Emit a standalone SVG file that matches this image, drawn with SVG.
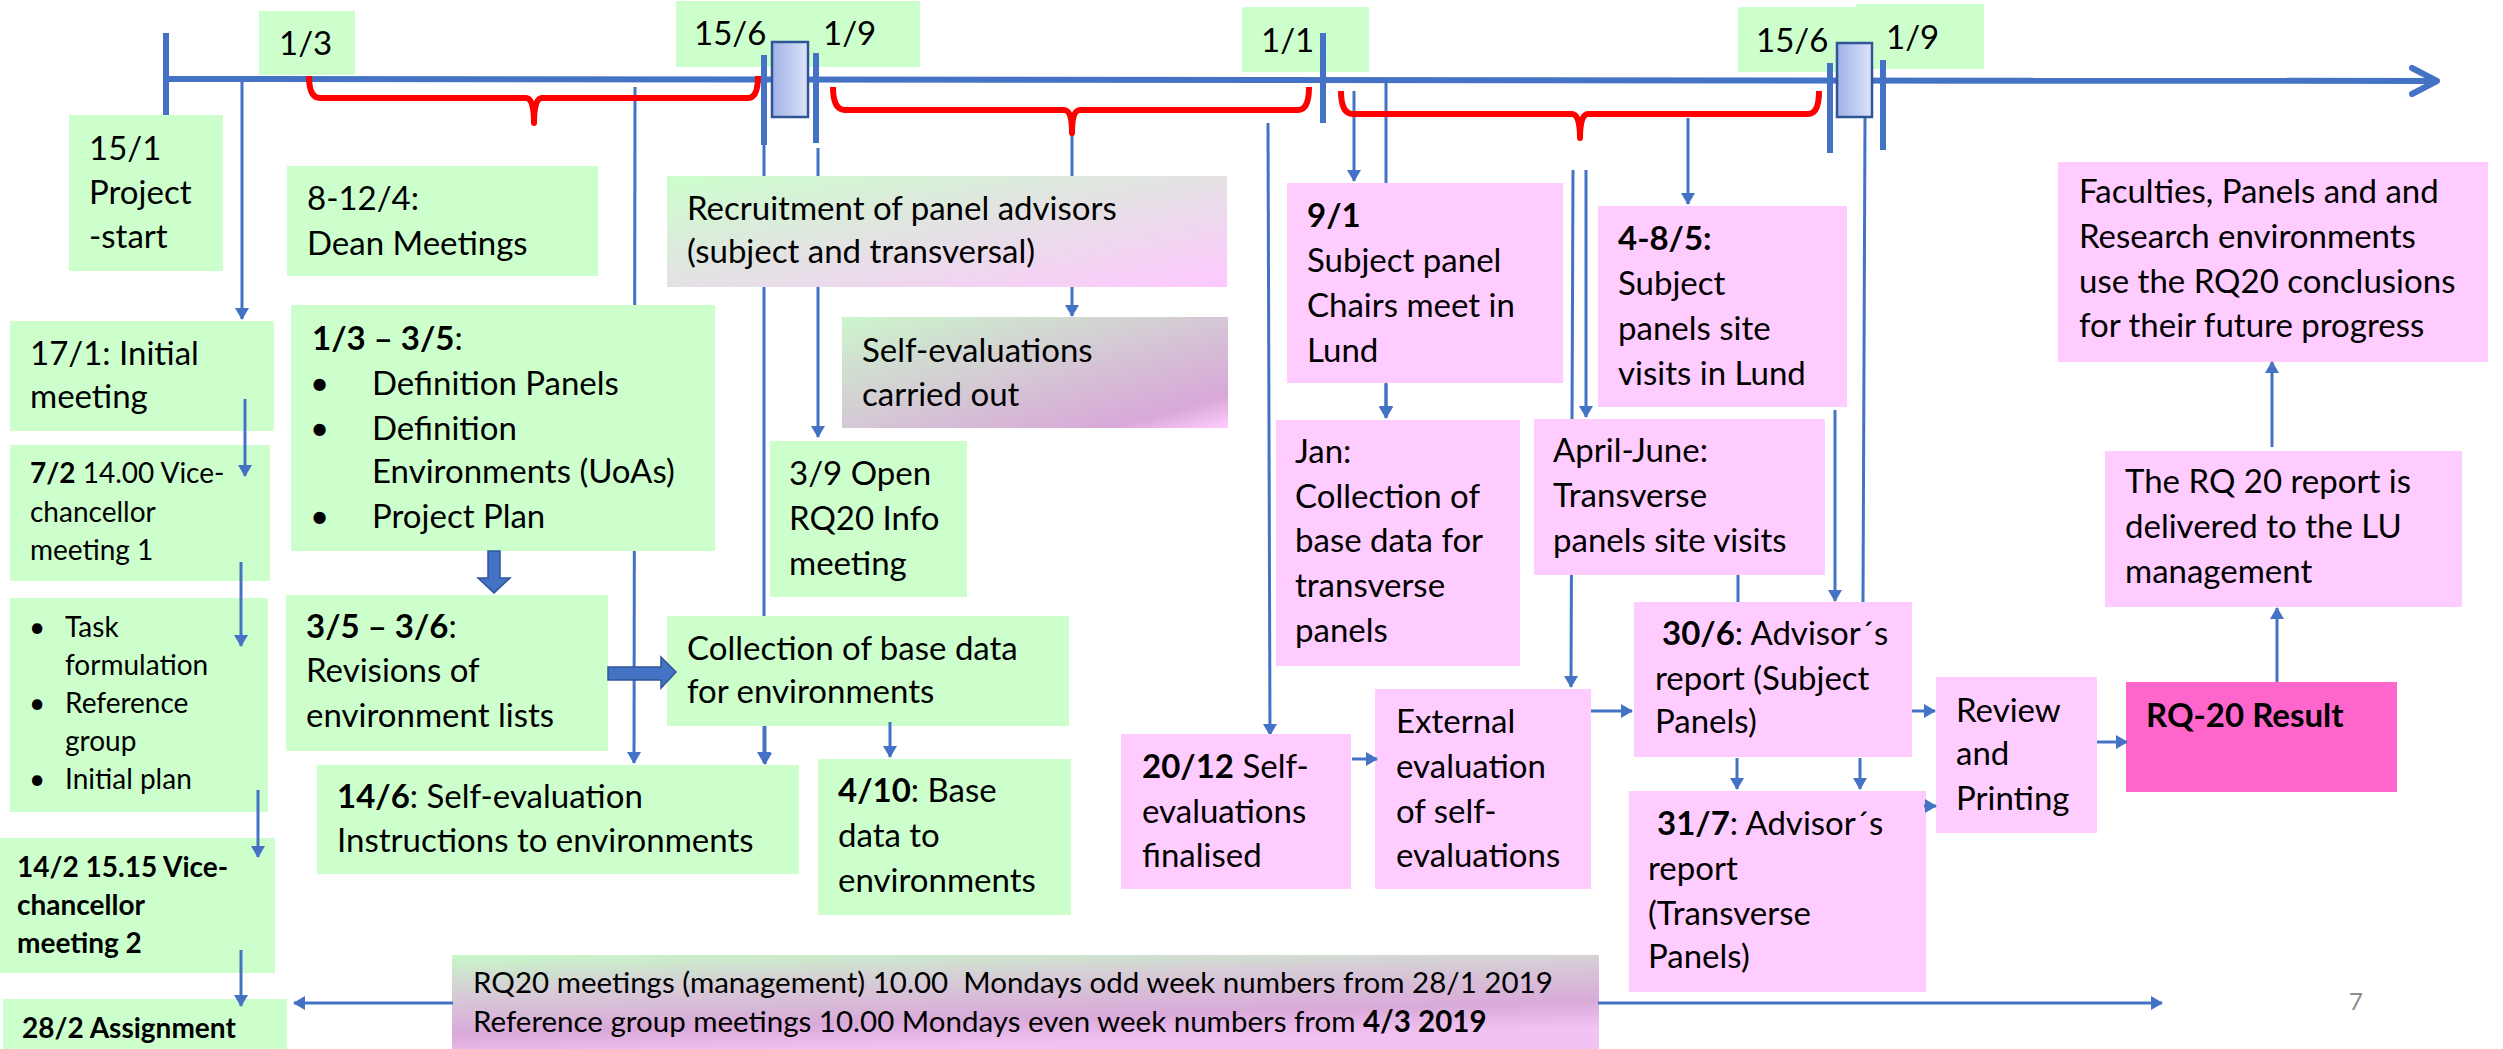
<svg xmlns="http://www.w3.org/2000/svg" width="2503" height="1049" viewBox="0 0 2503 1049">
<style>
text{font-family:Lato,"Liberation Sans",sans-serif;fill:#000;white-space:pre;}
.t{font-size:33px;}
.s{font-size:28px;}
.m{font-size:29.5px;}
.b{font-weight:bold;}
.g{fill:#CCFFCC;}
.p{fill:#FFCCFF;}
.ln{stroke:#4472C4;stroke-width:3;fill:none;}
.lna{stroke:#4472C4;stroke-width:3;fill:none;marker-end:url(#ah);}
.tick{stroke:#4472C4;stroke-width:6;fill:none;}
.brace{stroke:#FF0000;stroke-width:6;fill:none;stroke-linejoin:round;}
.thick{fill:#4472C4;stroke:#2F5597;stroke-width:1.5;}
.glyph{fill:url(#gg);stroke:#2F5597;stroke-width:2.5;}
</style>
<defs>
<marker id="ah" viewBox="0 0 12 14" refX="11" refY="7" markerWidth="12" markerHeight="14" orient="auto" markerUnits="userSpaceOnUse"><path d="M0,0 L12,7 L0,14 z" fill="#4472C4"/></marker>
<linearGradient id="gg" x1="0" y1="0" x2="1" y2="0"><stop offset="0" stop-color="#9FB1E6"/><stop offset="1" stop-color="#DDE4F8"/></linearGradient>
<linearGradient id="grec" x1="0" y1="0" x2="1" y2="1"><stop offset="0" stop-color="#CCFFCC"/><stop offset="0.5" stop-color="#E4E1E4"/><stop offset="1" stop-color="#FFC8FF"/></linearGradient>
<linearGradient id="gself" x1="0" y1="0" x2="1" y2="1"><stop offset="0" stop-color="#CCF5CC"/><stop offset="0.45" stop-color="#D4CCD4"/><stop offset="0.85" stop-color="#D8A8D8"/><stop offset="1" stop-color="#FFCCFF"/></linearGradient>
<linearGradient id="gmeet" x1="0" y1="0" x2="0.35" y2="1"><stop offset="0" stop-color="#C8F7C8"/><stop offset="0.35" stop-color="#D6CED6"/><stop offset="0.75" stop-color="#D9AAD9"/><stop offset="1" stop-color="#F2C2F2"/></linearGradient>
</defs>

<g id="connectors-back">
<line class="lna" x1="635" y1="87" x2="634" y2="763"/>
<line class="lna" x1="764" y1="145" x2="764" y2="763"/>
<line class="lna" x1="818" y1="148" x2="818" y2="437"/>
<line class="lna" x1="1072" y1="133" x2="1072" y2="316"/>
<line class="lna" x1="1268" y1="123" x2="1270" y2="735"/>
<line class="lna" x1="1354" y1="91" x2="1354" y2="181"/>
<line class="lna" x1="1386" y1="83" x2="1386" y2="417"/>
<line class="lna" x1="1688" y1="118" x2="1688" y2="204"/>
<line class="lna" x1="1573" y1="170" x2="1571" y2="687"/>
<line class="lna" x1="1586" y1="170" x2="1586" y2="417"/>
<line class="ln" x1="1738" y1="560" x2="1738" y2="602"/>
<line class="lna" x1="1835" y1="410" x2="1835" y2="601"/>
<line class="ln" x1="1865" y1="117" x2="1863" y2="602"/>
</g>

<g id="timeline">
<line x1="166" y1="79" x2="2434" y2="81" stroke="#4472C4" stroke-width="6"/>
<polyline points="2412,68 2437,81 2412,94" fill="none" stroke="#4472C4" stroke-width="6" stroke-linecap="round" stroke-linejoin="round"/>
<line class="tick" x1="166" y1="33" x2="166" y2="115"/>
<path class="brace" d="M309,76 Q309,98 320,98 L526,98 Q534,98 534,123 Q534,98 542,98 L748,98 Q758,98 758,76"/>
<path class="brace" d="M833,87 Q833,110 845,110 L1064,110 Q1072,110 1072,133 Q1072,110 1080,110 L1298,110 Q1309,110 1309,87"/>
<path class="brace" d="M1341,91 Q1341,114 1353,114 L1572,114 Q1580,114 1580,138 Q1580,114 1588,114 L1808,114 Q1819,114 1819,91"/>
</g>

<g id="label-1-3"><rect class="g" x="259" y="11" width="96" height="64"/><text class="t" x="279" y="55">1/3</text></g>
<g id="label-15-6-a"><rect class="g" x="676" y="1" width="244" height="66"/><text class="t" x="694" y="45">15/6</text><text class="t" x="823" y="45">1/9</text></g>
<g id="label-1-1"><rect class="g" x="1242" y="7" width="127" height="65"/><text class="t" x="1261" y="52">1/1</text></g>
<g id="label-15-6-b"><rect class="g" x="1738" y="7" width="118" height="65"/><rect class="g" x="1856" y="4" width="128" height="65"/><text class="t" x="1756" y="52">15/6</text><text class="t" x="1886" y="49">1/9</text></g>

<g id="timeline-over">
<line class="tick" x1="764" y1="55" x2="764" y2="145"/>
<line class="tick" x1="816" y1="53" x2="816" y2="143"/>
<line class="tick" x1="1323" y1="33" x2="1323" y2="123"/>
<line class="tick" x1="1830" y1="63" x2="1830" y2="153"/>
<line class="tick" x1="1883" y1="60" x2="1883" y2="150"/>
<rect class="glyph" x="772" y="42" width="36" height="75"/>
<rect class="glyph" x="1837" y="43" width="35" height="74"/>
</g>

<g id="n-projstart"><rect class="g" x="69" y="115" width="154" height="156"/><text class="t" x="89" y="160">15/1</text><text class="t" x="89" y="204">Project</text><text class="t" x="89" y="248">-start</text></g>
<g id="n-initial"><rect class="g" x="10" y="321" width="264" height="110"/><text class="t" x="30" y="365">17/1: Initial</text><text class="t" x="30" y="408">meeting</text></g>
<g id="n-vc1"><rect class="g" x="10" y="445" width="260" height="136"/><text class="s" x="30" y="483"><tspan class="b">7/2</tspan> 14.00 Vice-</text><text class="s" x="30" y="522">chancellor</text><text class="s" x="30" y="560">meeting 1</text></g>
<g id="n-task"><rect class="g" x="10" y="598" width="258" height="214"/><text class="s" x="29" y="637">•</text><text class="s" x="65" y="637">Task</text><text class="s" x="65" y="675">formulation</text><text class="s" x="29" y="713">•</text><text class="s" x="65" y="713">Reference</text><text class="s" x="65" y="751">group</text><text class="s" x="29" y="789">•</text><text class="s" x="65" y="789">Initial plan</text></g>
<g id="n-vc2"><rect class="g" x="0" y="838" width="275" height="135"/><text class="s b" x="17" y="877">14/2 15.15 Vice-</text><text class="s b" x="17" y="915">chancellor</text><text class="s b" x="17" y="953">meeting 2</text></g>
<g id="n-assign"><rect class="g" x="3" y="999" width="284" height="50"/><text class="s b" x="22" y="1038">28/2 Assignment</text></g>
<g id="n-dean"><rect class="g" x="287" y="166" width="311" height="110"/><text class="t" x="307" y="210">8-12/4:</text><text class="t" x="307" y="255">Dean Meetings</text></g>
<g id="n-define"><rect class="g" x="291" y="305" width="424" height="246"/><text class="t" x="312" y="350"><tspan class="b">1/3 – 3/5</tspan>:</text><text class="t" x="310" y="395">•</text><text class="t" x="372" y="395">Definition Panels</text><text class="t" x="310" y="440">•</text><text class="t" x="372" y="440">Definition</text><text class="t" x="372" y="483">Environments (UoAs)</text><text class="t" x="310" y="528">•</text><text class="t" x="372" y="528">Project Plan</text></g>
<g id="n-revisions"><rect class="g" x="286" y="595" width="322" height="156"/><text class="t" x="306" y="638"><tspan class="b">3/5 – 3/6</tspan>:</text><text class="t" x="306" y="682">Revisions of</text><text class="t" x="306" y="727">environment lists</text></g>
<g id="n-collect"><rect class="g" x="667" y="616" width="402" height="110"/><text class="t" x="687" y="660">Collection of base data</text><text class="t" x="687" y="703">for environments</text></g>
<g id="n-instr"><rect class="g" x="317" y="765" width="482" height="109"/><text class="t" x="337" y="808"><tspan class="b">14/6</tspan>: Self-evaluation</text><text class="t" x="337" y="852">Instructions to environments</text></g>
<g id="n-base"><rect class="g" x="818" y="759" width="253" height="156"/><text class="t" x="838" y="802"><tspan class="b">4/10</tspan>: Base</text><text class="t" x="838" y="847">data to</text><text class="t" x="838" y="892">environments</text></g>
<g id="n-recruit"><rect fill="url(#grec)" x="667" y="176" width="560" height="111"/><text class="t" x="687" y="220">Recruitment of panel advisors</text><text class="t" x="687" y="263">(subject and transversal)</text></g>
<g id="n-selfeval"><rect fill="url(#gself)" x="842" y="317" width="386" height="111"/><text class="t" x="862" y="362">Self-evaluations</text><text class="t" x="862" y="406">carried out</text></g>
<g id="n-open"><rect class="g" x="770" y="441" width="197" height="156"/><text class="t" x="789" y="485">3/9 Open</text><text class="t" x="789" y="530">RQ20 Info</text><text class="t" x="789" y="575">meeting</text></g>
<g id="n-9-1"><rect class="p" x="1287" y="183" width="276" height="200"/><text class="t b" x="1307" y="227">9/1</text><text class="t" x="1307" y="272">Subject panel</text><text class="t" x="1307" y="317">Chairs meet in</text><text class="t" x="1307" y="362">Lund</text></g>
<g id="n-jan"><rect class="p" x="1276" y="420" width="244" height="246"/><text class="t" x="1295" y="463">Jan:</text><text class="t" x="1295" y="508">Collection of</text><text class="t" x="1295" y="552">base data for</text><text class="t" x="1295" y="597">transverse</text><text class="t" x="1295" y="642">panels</text></g>
<g id="n-4-8-5"><rect class="p" x="1598" y="206" width="249" height="201"/><text class="t b" x="1618" y="250">4-8/5:</text><text class="t" x="1618" y="295">Subject</text><text class="t" x="1618" y="340">panels site</text><text class="t" x="1618" y="385">visits in Lund</text></g>
<g id="n-april"><rect class="p" x="1534" y="419" width="291" height="156"/><text class="t" x="1553" y="462">April-June:</text><text class="t" x="1553" y="507">Transverse</text><text class="t" x="1553" y="552">panels site visits</text></g>
<g id="n-30-6"><rect class="p" x="1634" y="602" width="278" height="155"/><text class="t" x="1662" y="645"><tspan class="b">30/6</tspan>: Advisor´s</text><text class="t" x="1655" y="690">report (Subject</text><text class="t" x="1655" y="733">Panels)</text></g>
<g id="n-31-7"><rect class="p" x="1629" y="791" width="297" height="201"/><text class="t" x="1657" y="835"><tspan class="b">31/7</tspan>: Advisor´s</text><text class="t" x="1648" y="880">report</text><text class="t" x="1648" y="925">(Transverse</text><text class="t" x="1648" y="968">Panels)</text></g>
<g id="n-20-12"><rect class="p" x="1121" y="734" width="230" height="155"/><text class="t" x="1142" y="778"><tspan class="b">20/12</tspan> Self-</text><text class="t" x="1142" y="823">evaluations</text><text class="t" x="1142" y="867">finalised</text></g>
<g id="n-external"><rect class="p" x="1375" y="689" width="216" height="200"/><text class="t" x="1396" y="733">External</text><text class="t" x="1396" y="778">evaluation</text><text class="t" x="1396" y="823">of self-</text><text class="t" x="1396" y="867">evaluations</text></g>
<g id="n-review"><rect class="p" x="1936" y="677" width="161" height="156"/><text class="t" x="1956" y="722">Review</text><text class="t" x="1956" y="765">and</text><text class="t" x="1956" y="810">Printing</text></g>
<g id="n-result"><rect fill="#FF66CC" x="2126" y="682" width="271" height="110"/><text class="t b" x="2146" y="727">RQ-20 Result</text></g>
<g id="n-report"><rect class="p" x="2105" y="451" width="357" height="156"/><text class="t" x="2125" y="493">The RQ 20 report is</text><text class="t" x="2125" y="538">delivered to the LU</text><text class="t" x="2125" y="583">management</text></g>
<g id="n-faculties"><rect class="p" x="2058" y="162" width="430" height="200"/><text class="t" x="2079" y="203">Faculties, Panels and and</text><text class="t" x="2079" y="248">Research environments</text><text class="t" x="2079" y="293">use the RQ20 conclusions</text><text class="t" x="2079" y="337">for their future progress</text></g>
<g id="n-meetings"><rect fill="url(#gmeet)" x="452" y="955" width="1147" height="94"/><text class="m" x="473" y="993">RQ20 meetings (management) 10.00  Mondays odd week numbers from 28/1 2019</text><text class="m" x="473" y="1032">Reference group meetings 10.00 Mondays even week numbers from <tspan class="b">4/3 2019</tspan></text></g>
<g id="page-number"><text x="2349" y="1010" font-size="24" style="fill:#8C8C8C">7</text></g>

<g id="connectors">
<line class="lna" x1="242" y1="82" x2="242" y2="319"/>
<line class="lna" x1="245" y1="399" x2="245" y2="476"/>
<line class="lna" x1="241" y1="562" x2="241" y2="646"/>
<line class="lna" x1="258" y1="790" x2="258" y2="857"/>
<line class="lna" x1="241" y1="950" x2="241" y2="1006"/>
<line class="lna" x1="453" y1="1003" x2="294" y2="1003"/>
<line class="lna" x1="1598" y1="1003" x2="2162" y2="1003"/>
<path class="thick" d="M488,551 L500,551 L500,578 L510,578 L494,593 L478,578 L488,578 Z"/>
<path class="thick" d="M608,667 L661,667 L661,657 L676,672 L661,688 L661,680 L608,680 Z"/>
<line class="lna" x1="765" y1="726" x2="765" y2="764"/>
<line class="lna" x1="890" y1="722" x2="890" y2="757"/>
<line class="lna" x1="1386" y1="384" x2="1386" y2="418"/>
<line class="lna" x1="1352" y1="759" x2="1377" y2="759"/>
<line class="lna" x1="1591" y1="711" x2="1632" y2="711"/>
<line class="lna" x1="1737" y1="758" x2="1737" y2="789"/>
<line class="lna" x1="1860" y1="758" x2="1860" y2="789"/>
<line class="lna" x1="1912" y1="711" x2="1935" y2="711"/>
<line class="lna" x1="1924" y1="806" x2="1936" y2="806"/>
<line class="lna" x1="2097" y1="742" x2="2127" y2="742"/>
<line class="lna" x1="2277" y1="682" x2="2277" y2="608"/>
<line class="lna" x1="2272" y1="447" x2="2272" y2="362"/>
</g>
</svg>
